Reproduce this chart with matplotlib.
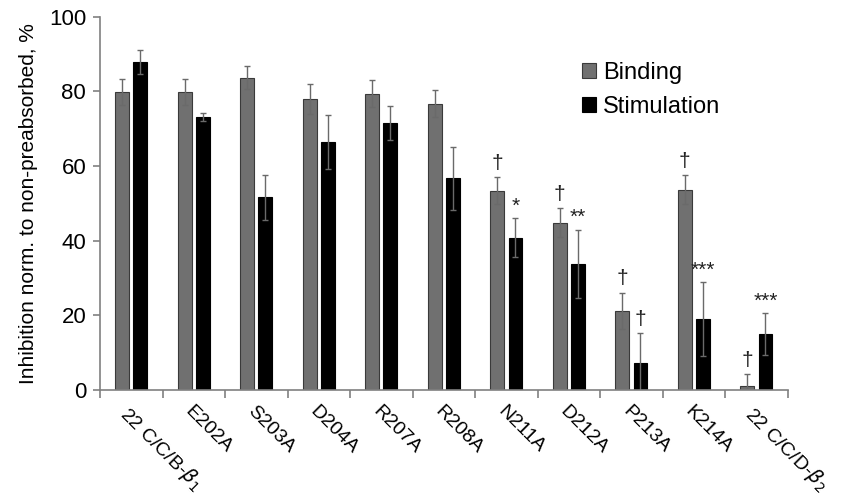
import numpy as np
import matplotlib
matplotlib.use('Agg')
import matplotlib.pyplot as plt

plt.rcParams['font.family'] = ['Liberation Sans', 'DejaVu Sans']

labels = ['22 C/C/B-$\\beta_1$', 'E202A', 'S203A', 'D204A', 'R207A', 'R208A',
          'N211A', 'D212A', 'P213A', 'K214A', '22 C/C/D-$\\beta_2$']
binding = [79.8, 79.8, 83.7, 78.0, 79.4, 76.7, 53.4, 44.8, 21.2, 53.7, 1.1]
binding_err = [3.5, 3.5, 3.0, 4.1, 3.6, 3.7, 3.6, 3.9, 4.9, 3.8, 3.2]
stim = [87.9, 73.2, 51.6, 66.5, 71.6, 56.7, 40.8, 33.8, 7.2, 19.0, 15.0]
stim_err = [3.2, 1.1, 6.0, 7.2, 4.6, 8.4, 5.2, 9.1, 8.0, 9.8, 5.5]
binding_marks = ['', '', '', '', '', '', '†', '†', '†', '†', '†']
stim_marks = ['', '', '', '', '', '', '*', '**', '†', '***', '***']

fig = plt.figure(figsize=(8.52, 4.98), dpi=100)
ax = fig.add_axes([0.1174, 0.2169, 0.807, 0.7496])

x = np.arange(len(labels))
w = 0.22
off = 0.145
ekw = dict(ecolor='#6a6a6a', elinewidth=1.0, capsize=2.5, capthick=1.0)
ax.bar(x - off, binding, w, yerr=binding_err, color='#707070', edgecolor='#3a3a3a',
       linewidth=0.8, error_kw=ekw, label='Binding')
ax.bar(x + off, stim, w, yerr=stim_err, color='black', edgecolor='black',
       linewidth=0.8, error_kw=ekw, label='Stimulation')

for i in range(len(labels)):
    if binding_marks[i]:
        ax.annotate(binding_marks[i], (x[i] - off, binding[i] + binding_err[i]),
                    xytext=(0, 3), textcoords='offset points', ha='center', va='bottom',
                    fontsize=15, color='#222222')
    if stim_marks[i]:
        m = stim_marks[i]
        ax.annotate(m, (x[i] + off, stim[i] + stim_err[i]),
                    xytext=(0, 3 if m == '†' else 2), textcoords='offset points',
                    ha='center', va='bottom', fontsize=15, color='#222222')

ax.set_xlim(-0.5, len(labels) - 0.5)
ax.set_ylim(0, 100)
ax.set_yticks([0, 20, 40, 60, 80, 100])
ax.tick_params(axis='y', labelsize=16, length=5, color='#808080', width=1.2, pad=5)
ax.set_ylabel('Inhibition norm. to non-preabsorbed, %', fontsize=15, labelpad=8)

ax.set_xticks(x)
ax.set_xticklabels(labels, rotation=-45, ha='left', va='top', rotation_mode='anchor',
                   fontsize=14)
ax.tick_params(axis='x', which='major', length=0, pad=9)
ax.set_xticks(np.arange(len(labels) + 1) - 0.5, minor=True)
ax.tick_params(axis='x', which='minor', length=6, color='#808080', width=1.2)

for s in ['top', 'right']:
    ax.spines[s].set_visible(False)
for s in ['left', 'bottom']:
    ax.spines[s].set_color('#808080')
    ax.spines[s].set_linewidth(1.2)

ax.legend(loc='upper left', bbox_to_anchor=(0.67, 0.935), frameon=False, fontsize=17,
          handlelength=0.6, handleheight=0.6, handletextpad=0.3, labelspacing=0.5)

fig.savefig('out.png', dpi=100)
